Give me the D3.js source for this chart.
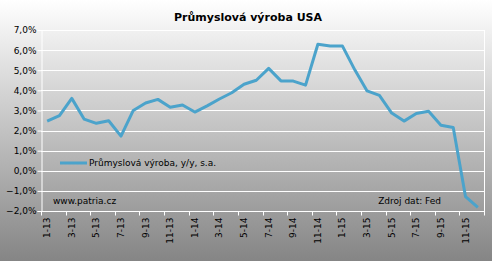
<!DOCTYPE html>
<html><head><meta charset="utf-8">
<script src="https://cdn.jsdelivr.net/npm/d3@7"></script>
<style>html,body{margin:0;padding:0;overflow:hidden;}svg{display:block;}</style>
</head><body>
<script>
const title = "Průmyslová výroba USA";
const seriesName = "Průmyslová výroba, y/y, s.a.";
const months = ["1-13","2-13","3-13","4-13","5-13","6-13","7-13","8-13","9-13","10-13","11-13","12-13",
"1-14","2-14","3-14","4-14","5-14","6-14","7-14","8-14","9-14","10-14","11-14","12-14",
"1-15","2-15","3-15","4-15","5-15","6-15","7-15","8-15","9-15","10-15","11-15","12-15"];
const values = [2.47,2.74,3.60,2.57,2.36,2.49,1.72,3.00,3.37,3.55,3.16,3.27,
2.92,3.23,3.57,3.88,4.30,4.50,5.09,4.47,4.46,4.26,6.29,6.21,
6.20,5.02,3.97,3.75,2.87,2.47,2.85,2.96,2.26,2.15,-1.29,-1.82];
const yTicks = [-2,-1,0,1,2,3,4,5,6,7];
const W = 492, H = 261;
const m = {l:41, r:8, t:30, b:50};

const svg = d3.select("body").append("svg").attr("width",W).attr("height",H);
const defs = svg.append("defs");
const g = defs.append("linearGradient").attr("id","bg").attr("x1",0).attr("y1",0).attr("x2",0).attr("y2",1);
g.append("stop").attr("offset","0%").attr("stop-color","#ffffff");
g.append("stop").attr("offset","100%").attr("stop-color","#858585");
svg.append("rect").attr("width",W).attr("height",H).attr("fill","url(#bg)");

const x = d3.scaleBand().domain(months).range([m.l, W-m.r]);
const y = d3.scaleLinear().domain([-2,7]).range([H-m.b, m.t]);

// gridlines
svg.append("g").selectAll("line").data(yTicks).join("line")
  .attr("x1",m.l).attr("x2",W-m.r).attr("y1",d=>Math.round(y(d))+0.5).attr("y2",d=>Math.round(y(d))+0.5)
  .attr("stroke","#fff").attr("stroke-width",1);
// right border
svg.append("line").attr("x1",W-m.r+0.5).attr("x2",W-m.r+0.5).attr("y1",y(7)).attr("y2",y(-2))
  .attr("stroke","#fff");

// y axis
const ya = svg.append("g").attr("transform",`translate(${m.l+0.5},0)`)
  .call(d3.axisLeft(y).tickValues(yTicks).tickSize(4).tickFormat(d=>d3.format(".1f")(d).replace(".",",")+"%"));
ya.select(".domain").attr("stroke","#fff");
ya.selectAll(".tick line").attr("stroke","#fff");
ya.selectAll("text").attr("font-family","DejaVu Sans, Verdana, sans-serif").attr("font-size",9).attr("fill","#000").attr("x",-5);

// x axis: ticks between categories every 2
const xa = svg.append("g").attr("transform",`translate(0,${Math.round(y(-2))+0.5})`);
xa.append("line").attr("x1",m.l).attr("x2",W-m.r+1).attr("stroke","#fff");
const tickPos = months.filter((d,i)=>i%2===0).map(d=>x(d)).concat([W-m.r]);
xa.selectAll("line.t").data(tickPos).join("line").attr("class","t")
  .attr("x1",d=>Math.round(d)+0.5).attr("x2",d=>Math.round(d)+0.5).attr("y1",0).attr("y2",4).attr("stroke","#fff");
xa.selectAll("text").data(months.filter((d,i)=>i%2===0)).join("text")
  .attr("transform",d=>`translate(${x(d)+x.bandwidth()/2+3},6) rotate(-90)`)
  .attr("text-anchor","end")
  .attr("font-family","DejaVu Sans, Verdana, sans-serif").attr("font-size",9).attr("fill","#000")
  .text(d=>d);

// line
const line = d3.line().x((d,i)=>x(months[i])+x.bandwidth()/2).y(d=>y(d));
svg.append("path").datum(values).attr("d",line).attr("fill","none")
  .attr("stroke","#4ba3cb").attr("stroke-width",3).attr("stroke-linejoin","round");

// title
svg.append("text").attr("x",248).attr("y",21).attr("text-anchor","middle")
  .attr("font-family","DejaVu Sans, Verdana, sans-serif").attr("font-weight","bold").attr("font-size",11)
  .attr("fill","#000").text(title);

// legend
svg.append("line").attr("x1",60).attr("x2",87).attr("y1",163).attr("y2",163).attr("stroke","#4ba3cb").attr("stroke-width",3);
svg.append("text").attr("x",89).attr("y",166).attr("font-family","DejaVu Sans, Verdana, sans-serif")
  .attr("font-size",9).attr("fill","#000").text(seriesName);

// annotations
svg.append("text").attr("x",53).attr("y",204).attr("font-family","DejaVu Sans, Verdana, sans-serif")
  .attr("font-size",9).attr("fill","#000").text("www.patria.cz");
svg.append("text").attr("x",441).attr("y",204).attr("text-anchor","end").attr("font-family","DejaVu Sans, Verdana, sans-serif")
  .attr("font-size",9).attr("fill","#000").text("Zdroj dat: Fed");
</script>
</body></html>
